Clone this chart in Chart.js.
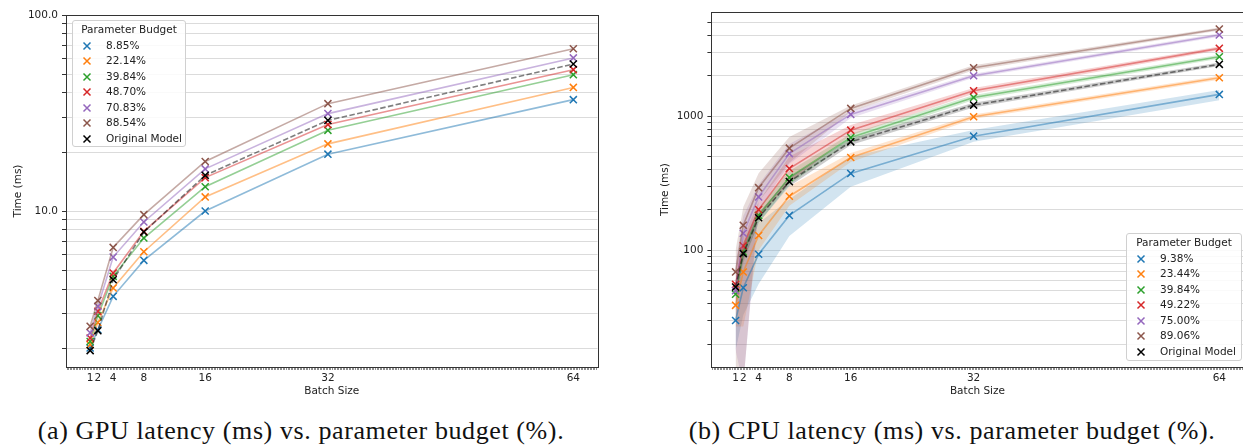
<!DOCTYPE html>
<html>
<head>
<meta charset="utf-8">
<script src="https://cdn.jsdelivr.net/npm/chart.js@4.4.1/dist/chart.umd.min.js"></script>
<style>
  html, body { margin: 0; padding: 0; background: #fff; }
  body { width: 1243px; height: 448px; overflow: hidden; position: relative; font-family: "DejaVu Sans", sans-serif; }
  canvas { position: absolute; top: 0; }
  #gpuChart { left: 0; }
  #cpuChart { left: 640px; }
  .legend { position: absolute; box-sizing: border-box; border: 1px solid #d0d0d0; border-radius: 3px;
            background: rgba(255,255,255,0.85); font-size: 10.5px; color: #222; }
  .legend .title { height: 15.5px; line-height: 15.5px; text-align: center; margin-top: 1px; }
  .legend .item { height: 15.5px; line-height: 15.5px; position: relative; white-space: nowrap; }
  .legend .item svg { position: absolute; left: 9px; top: 3px; }
  .legend .item span { position: absolute; left: 33px; }
  .caption { position: absolute; top: 416px; font-family: "Liberation Serif", "DejaVu Serif", serif;
             font-size: 26px; letter-spacing: 0.6px; color: #111; white-space: nowrap; transform: translateX(-50%); }
</style>
</head>
<body>
<canvas id="gpuChart" width="620" height="398"></canvas>
<canvas id="cpuChart" width="610" height="398"></canvas>
<div id="gpuLegend" class="legend" style="left:72px; top:20px; width:114px; height:127px;"></div>
<div id="cpuLegend" class="legend" style="left:1126px; top:233px; width:116px; height:128px;"></div>
<div class="caption" style="left:301px;">(a) GPU latency (ms) vs. parameter budget (%).</div>
<div class="caption" style="left:952px;">(b) CPU latency (ms) vs. parameter budget (%).</div>
<script>
// batch sizes on the x axis
const batchSizes = [1, 2, 4, 8, 16, 32, 64];
const xTickLabels = [1, 2, 4, 8, 16, 32, 64];

// GPU latency (ms)
const gpuLabels = ['8.85%', '22.14%', '39.84%', '48.70%', '70.83%', '88.54%'];
const gpu8_85 = [2.0, 2.48, 3.67, 5.60, 10.0, 19.5, 37.0];
const gpu22_14 = [2.08, 2.70, 4.05, 6.20, 11.8, 22.0, 42.7];
const gpu39_84 = [2.16, 2.92, 4.64, 7.28, 13.3, 25.8, 49.6];
const gpu48_70 = [2.25, 3.08, 4.83, 7.87, 14.8, 27.6, 52.6];
const gpu70_83 = [2.39, 3.26, 5.82, 8.79, 16.4, 31.4, 60.4];
const gpu88_54 = [2.58, 3.49, 6.52, 9.58, 17.9, 35.3, 67.3];
const gpuOriginal = [1.94, 2.45, 4.46, 7.81, 15.2, 29.0, 56.2];
const gpuYTicks = [2, 3, 4, 5, 6, 7, 8, 9, 10, 20, 30, 40, 50, 60, 70, 80, 90, 100];
const gpuYLabels = [10, 100];

// CPU latency (ms), mean and shaded band
const cpuLabels = ['9.38%', '23.44%', '39.84%', '49.22%', '75.00%', '89.06%'];
const cpu9_38 = [30, 52.6, 93.4, 182, 374, 709, 1452];
const cpu9_38Lo = [18, 33, 56, 128, 297, 643, 1316];
const cpu9_38Hi = [44, 88, 160, 240, 500, 787, 1563];
const cpu23_44 = [38.9, 68.9, 129, 253, 492, 989, 1933];
const cpu23_44Lo = [27, 27, 100, 215, 455, 950, 1870];
const cpu23_44Hi = [52, 88, 160, 300, 530, 1030, 2000];
const cpu39_84 = [47, 97, 182, 349, 693, 1378, 2773];
const cpu39_84Lo = [36, 80, 160, 310, 650, 1320, 2680];
const cpu39_84Hi = [60, 115, 205, 390, 740, 1440, 2870];
const cpu49_22 = [55.7, 108, 201, 407, 786, 1544, 3199];
const cpu49_22Lo = [40, 90, 175, 320, 720, 1470, 3100];
const cpu49_22Hi = [70, 125, 230, 500, 860, 1620, 3300];
const cpu75_00 = [50, 134, 250, 526, 1030, 1999, 4020];
const cpu75_00Lo = [18, 10, 200, 440, 970, 1930, 3900];
const cpu75_00Hi = [80, 180, 310, 620, 1090, 2070, 4140];
const cpu89_06 = [69, 153.6, 293, 577, 1141, 2293, 4460];
const cpu89_06Lo = [12, 10, 230, 450, 1080, 2200, 4350];
const cpu89_06Hi = [100, 210, 375, 700, 1200, 2390, 4580];
const cpuOriginal = [53.2, 94.5, 175, 325, 643, 1208, 2432];
const cpuOriginalLo = [45, 85, 160, 300, 610, 1160, 2360];
const cpuOriginalHi = [60, 105, 190, 350, 680, 1260, 2510];
const cpuYTicks = [20, 30, 40, 50, 60, 70, 80, 90, 100, 200, 300, 400, 500, 600, 700, 800, 900, 1000, 2000, 3000, 4000, 5000];
const cpuYLabels = [100, 1000];

const colors = ['31,119,180', '255,127,14', '44,160,44', '214,39,40', '148,103,189', '140,86,75'];

// minor ticks along the x axis
const xMinor = [];
for (let i = -10; i <= 335; i++) xMinor.push(Math.round(i * 2) / 10);

function pts(arr) {
  return arr.map((v, i) => ({ x: batchSizes[i], y: v }));
}

function lineSet(label, values, rgb, order, dashed) {
  return {
    label: label,
    data: pts(values),
    borderColor: dashed ? 'rgba(0,0,0,0.5)' : `rgba(${rgb},0.5)`,
    borderWidth: 1.6,
    borderDash: dashed ? [5.5, 2.4] : [],
    pointStyle: 'crossRot',
    pointRadius: 5,
    pointBorderWidth: 1.5,
    pointBorderColor: dashed ? '#000' : `rgb(${rgb})`,
    pointBackgroundColor: 'rgba(0,0,0,0)',
    fill: false,
    order: order
  };
}

function bandSets(lo, hi, rgba, order) {
  return [
    { label: '', data: pts(lo), borderWidth: 0, pointRadius: 0, fill: false, order: order },
    { label: '', data: pts(hi), borderWidth: 0, pointRadius: 0, fill: '-1', backgroundColor: rgba, order: order }
  ];
}

const framePlugin = {
  id: 'frame',
  afterDraw(chart) {
    const { ctx, chartArea } = chart;
    ctx.save();
    ctx.strokeStyle = '#333';
    ctx.lineWidth = 1;
    ctx.strokeRect(Math.round(chartArea.left) + 0.5, Math.round(chartArea.top) + 0.5,
      Math.round(chartArea.right - chartArea.left), Math.round(chartArea.bottom - chartArea.top));
    ctx.restore();
  }
};

function makeOptions(yMin, yMax, yTicks, yLabels, fmt, pad, yWidth) {
  return {
    responsive: false,
    animation: false,
    events: [],
    layout: { padding: pad },
    plugins: { legend: { display: false }, tooltip: { enabled: false } },
    scales: {
      x: {
        type: 'linear',
        min: -2.15,
        max: 67.15,
        afterBuildTicks: (s) => { s.ticks = xMinor.map(v => ({ value: v })); },
        afterFit: (s) => { s.height = 31; },
        ticks: {
          autoSkip: false, maxRotation: 0, minRotation: 0, padding: 2,
          color: '#222', font: { family: 'DejaVu Sans', size: 10.5 },
          callback: (v) => xTickLabels.includes(v) ? String(v) : ''
        },
        grid: { drawOnChartArea: false, drawTicks: true, tickLength: 3, tickColor: '#444', lineWidth: 0.6 },
        border: { color: '#333', width: 1 },
        title: { display: true, text: 'Batch Size', color: '#222', padding: 0, font: { family: 'DejaVu Sans', size: 10.5 } }
      },
      y: {
        type: 'logarithmic',
        min: yMin,
        max: yMax,
        afterBuildTicks: (s) => { s.ticks = yTicks.map(v => ({ value: v })); },
        afterFit: (s) => { s.width = yWidth; },
        ticks: {
          autoSkip: false, padding: 4,
          color: '#222', font: { family: 'DejaVu Sans', size: 10.5 },
          callback: (v) => yLabels.includes(v) ? fmt(v) : ''
        },
        grid: { color: 'rgba(0,0,0,0.14)', lineWidth: 1, drawTicks: true, tickLength: 4, tickColor: '#333' },
        border: { color: '#333', width: 1 },
        title: { display: true, text: 'Time (ms)', color: '#222', padding: 0, font: { family: 'DejaVu Sans', size: 10.5 } }
      }
    }
  };
}

// GPU chart
const gpuSeries = [gpu8_85, gpu22_14, gpu39_84, gpu48_70, gpu70_83, gpu88_54];
const gpuDatasets = gpuSeries.map((s, i) => lineSet(gpuLabels[i], s, colors[i], 6 - i, false));
gpuDatasets.push(lineSet('Original Model', gpuOriginal, '0,0,0', 0, true));

new Chart(document.getElementById('gpuChart'), {
  type: 'line',
  data: { datasets: gpuDatasets },
  options: makeOptions(1.6, 100, gpuYTicks, gpuYLabels, (v) => v.toFixed(1),
    { left: 11.7, top: 15, right: 22.5, bottom: 0 }, 54.3),
  plugins: [framePlugin]
});

// CPU chart
const cpuSeries = [cpu9_38, cpu23_44, cpu39_84, cpu49_22, cpu75_00, cpu89_06];
const cpuLo = [cpu9_38Lo, cpu23_44Lo, cpu39_84Lo, cpu49_22Lo, cpu75_00Lo, cpu89_06Lo];
const cpuHi = [cpu9_38Hi, cpu23_44Hi, cpu39_84Hi, cpu49_22Hi, cpu75_00Hi, cpu89_06Hi];
let cpuDatasets = [];
cpuSeries.forEach((s, i) => { cpuDatasets.push(lineSet(cpuLabels[i], s, colors[i], 6 - i, false)); });
cpuDatasets.push(lineSet('Original Model', cpuOriginal, '0,0,0', 0, true));
cpuSeries.forEach((s, i) => {
  cpuDatasets = cpuDatasets.concat(bandSets(cpuLo[i], cpuHi[i], `rgba(${colors[i]},0.2)`, 20 - i));
});
cpuDatasets = cpuDatasets.concat(bandSets(cpuOriginalLo, cpuOriginalHi, 'rgba(0,0,0,0.2)', 10));

new Chart(document.getElementById('cpuChart'), {
  type: 'line',
  data: { datasets: cpuDatasets },
  options: makeOptions(13.5, 5940, cpuYTicks, cpuYLabels, (v) => String(v),
    { left: 18.7, top: 12.3, right: 4, bottom: 0 }, 52.7),
  plugins: [framePlugin]
});

// legends
function cross(color) {
  return `<svg width="10" height="10" viewBox="0 0 10 10"><path d="M1.5 1.5 L8.5 8.5 M8.5 1.5 L1.5 8.5" stroke="${color}" stroke-width="1.5"/></svg>`;
}
function buildLegend(id, labels) {
  const el = document.getElementById(id);
  let html = '<div class="title">Parameter Budget</div>';
  labels.forEach((l, i) => {
    html += `<div class="item">${cross('rgb(' + colors[i] + ')')}<span>${l}</span></div>`;
  });
  html += `<div class="item">${cross('#000')}<span>Original Model</span></div>`;
  el.innerHTML = html;
}
buildLegend('gpuLegend', gpuLabels);
buildLegend('cpuLegend', cpuLabels);
</script>
</body>
</html>
